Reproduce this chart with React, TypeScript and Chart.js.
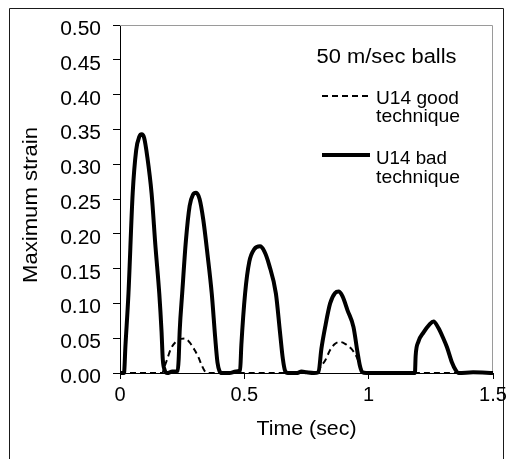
import React, { useEffect, useRef } from 'react';
import { Chart, registerables } from 'chart.js';

Chart.register(...registerables);

// ---- data ----
const badTime = [0, 0.016, 0.022, 0.034, 0.051, 0.065, 0.078, 0.087, 0.097, 0.11, 0.127, 0.143, 0.158, 0.167, 0.172, 0.18, 0.19, 0.21, 0.232, 0.236, 0.24, 0.25, 0.265, 0.28, 0.293, 0.306, 0.32, 0.335, 0.352, 0.369, 0.383, 0.392, 0.4, 0.41, 0.44, 0.465, 0.483, 0.488, 0.503, 0.52, 0.54, 0.563, 0.58, 0.6, 0.627, 0.643, 0.655, 0.664, 0.675, 0.71, 0.73, 0.75, 0.78, 0.798, 0.81, 0.825, 0.845, 0.865, 0.879, 0.895, 0.915, 0.939, 0.955, 0.965, 0.975, 0.99, 1.1, 1.186, 1.189, 1.2, 1.22, 1.245, 1.261, 1.28, 1.3, 1.315, 1.335, 1.35, 1.362, 1.42, 1.5];
const badStrain = [0, 0, 0.04, 0.114, 0.258, 0.32, 0.34, 0.343, 0.338, 0.31, 0.258, 0.18, 0.114, 0.06, 0.02, 0.004, 0, 0.002, 0.003, 0.02, 0.06, 0.114, 0.19, 0.24, 0.256, 0.259, 0.25, 0.22, 0.17, 0.114, 0.05, 0.015, 0.003, 0, 0, 0.002, 0.004, 0.04, 0.114, 0.16, 0.178, 0.182, 0.175, 0.155, 0.114, 0.06, 0.02, 0.003, 0, 0, 0.002, 0.001, 0, 0.001, 0.035, 0.066, 0.1, 0.115, 0.117, 0.11, 0.09, 0.066, 0.03, 0.01, 0.001, 0, 0, 0, 0.025, 0.045, 0.058, 0.07, 0.074, 0.065, 0.05, 0.037, 0.015, 0.004, 0, 0.001, 0];

const goodTime = [0, 0.17, 0.178, 0.188, 0.205, 0.225, 0.245, 0.262, 0.28, 0.3, 0.315, 0.33, 0.342, 0.35, 0.795, 0.805, 0.825, 0.845, 0.865, 0.885, 0.905, 0.93, 0.952, 0.968, 0.978, 1.5];
const goodStrain = [0, 0, 0.008, 0.018, 0.035, 0.045, 0.049, 0.0495, 0.044, 0.033, 0.023, 0.01, 0.002, 0, 0, 0.008, 0.018, 0.033, 0.042, 0.0446, 0.042, 0.035, 0.023, 0.008, 0, 0];

const yTickLabels = ['0.00', '0.05', '0.10', '0.15', '0.20', '0.25', '0.30', '0.35', '0.40', '0.45', '0.50'];
const xTickLabels = ['0', '0.5', '1', '1.5'];
const legendTitle = '50 m/sec balls';
const goodLabel = ['U14 good', 'technique'];
const badLabel = ['U14 bad', 'technique'];
const xAxisTitle = 'Time (sec)';
const yAxisTitle = 'Maximum strain';

const FONT = '"Liberation Sans", Arial, Helvetica, sans-serif';

function drawText(
  ctx: CanvasRenderingContext2D,
  s: string,
  x: number,
  y: number,
  size: number,
  align: CanvasTextAlign,
  opts: { width?: number; sx?: number; rot?: boolean } = {}
) {
  ctx.save();
  ctx.font = `${size}px ${FONT}`;
  const m = ctx.measureText(s).width;
  const sx = opts.width ? opts.width / m : opts.sx ?? 1;
  ctx.translate(x, y);
  if (opts.rot) ctx.rotate(-Math.PI / 2);
  ctx.scale(sx, 1);
  ctx.textAlign = align;
  ctx.textBaseline = 'alphabetic';
  ctx.fillStyle = '#000';
  ctx.fillText(s, 0, 0);
  ctx.restore();
}

const decorPlugin = {
  id: 'decor',
  beforeDatasetsDraw(chart: any) {
    const ctx = chart.ctx as CanvasRenderingContext2D;
    const { left, right, top, bottom } = chart.chartArea;
    ctx.save();
    ctx.strokeStyle = '#9a9a9a';
    ctx.lineWidth = 1;
    ctx.beginPath();
    ctx.moveTo(left, top + 0.5);
    ctx.lineTo(right - 0.5, top + 0.5);
    ctx.lineTo(right - 0.5, bottom);
    ctx.stroke();
    ctx.restore();
  },
  afterDraw(chart: any) {
    const ctx = chart.ctx as CanvasRenderingContext2D;
    const { left, right } = chart.chartArea;
    const ys = chart.scales.y;
    const xs = chart.scales.x;

    // outer frame
    ctx.save();
    ctx.strokeStyle = '#1a1a1a';
    ctx.lineWidth = 1;
    ctx.beginPath();
    ctx.moveTo(9.5, 459);
    ctx.lineTo(9.5, 8.5);
    ctx.lineTo(503.5, 8.5);
    ctx.lineTo(503.5, 459);
    ctx.stroke();
    ctx.restore();

    // y tick labels
    ys.ticks.forEach((t: any) => {
      const py = ys.getPixelForValue(t.value);
      drawText(ctx, String(t.label), 101, py + 10, 20, 'right', { sx: 1.05 });
    });
    // x tick labels
    xs.ticks.forEach((t: any) => {
      const px = xs.getPixelForValue(t.value);
      drawText(ctx, String(t.label), px, 401, 20, 'center', { sx: 1.0 });
    });
    // axis titles
    drawText(ctx, xAxisTitle, (left + right) / 2, 435, 20, 'center', { width: 100 });
    drawText(ctx, yAxisTitle, 37, 205, 20, 'center', { width: 156, rot: true });

    // legend
    drawText(ctx, legendTitle, 316.5, 63, 20, 'left', { width: 140 });
    ctx.save();
    ctx.strokeStyle = '#000';
    ctx.lineWidth = 2;
    ctx.setLineDash([6, 4]);
    ctx.beginPath();
    ctx.moveTo(322, 96);
    ctx.lineTo(369, 96);
    ctx.stroke();
    ctx.setLineDash([]);
    ctx.lineWidth = 4;
    ctx.beginPath();
    ctx.moveTo(322, 155);
    ctx.lineTo(370, 155);
    ctx.stroke();
    ctx.restore();
    drawText(ctx, goodLabel[0], 376, 104, 19, 'left', { width: 83 });
    drawText(ctx, goodLabel[1], 376, 122, 19, 'left', { width: 84 });
    drawText(ctx, badLabel[0], 376, 164, 19, 'left', { width: 71 });
    drawText(ctx, badLabel[1], 376, 183, 19, 'left', { width: 84 });
  },
};

export default function App() {
  const ref = useRef<HTMLCanvasElement | null>(null);

  useEffect(() => {
    const canvas = ref.current;
    if (!canvas) return;
    const goodData = goodTime.map((t, i) => ({ x: t, y: goodStrain[i] }));
    const badData = badTime.map((t, i) => ({ x: t, y: badStrain[i] }));

    const chart = new Chart(canvas, {
      type: 'line',
      data: {
        datasets: [
          {
            label: badLabel.join(' '),
            data: badData,
            borderColor: '#000',
            borderWidth: 4,
            pointRadius: 0,
            cubicInterpolationMode: 'monotone',
            fill: false,
            clip: false as any,
            order: 0,
          },
          {
            label: goodLabel.join(' '),
            data: goodData,
            borderColor: '#000',
            borderWidth: 2,
            borderDash: [6, 4],
            pointRadius: 0,
            cubicInterpolationMode: 'monotone',
            fill: false,
            clip: false as any,
            order: 1,
          },
        ],
      },
      options: {
        animation: false,
        responsive: false,
        devicePixelRatio: 1,
        layout: { padding: { left: 0, top: 25, right: 16, bottom: 0 } },
        plugins: {
          legend: { display: false },
          tooltip: { enabled: false },
          title: { display: false },
        },
        scales: {
          x: {
            type: 'linear',
            min: 0,
            max: 1.5,
            ticks: {
              stepSize: 0.5,
              display: false,
              callback: (_v: any, i: number) => xTickLabels[i],
            },
            grid: {
              drawOnChartArea: false,
              drawTicks: true,
              tickLength: 6,
              color: '#000',
              lineWidth: 1,
            },
            border: { color: '#000', width: 1 },
            afterFit: (s: any) => {
              s.height = 86;
            },
          },
          y: {
            type: 'linear',
            min: 0,
            max: 0.5,
            ticks: {
              stepSize: 0.05,
              display: false,
              callback: (_v: any, i: number) => yTickLabels[i],
            },
            grid: {
              drawOnChartArea: false,
              drawTicks: true,
              tickLength: 7,
              color: '#000',
              lineWidth: 1,
            },
            border: { color: '#000', width: 1 },
            afterFit: (s: any) => {
              s.width = 120;
            },
          },
        },
      },
      plugins: [decorPlugin],
    });
    return () => chart.destroy();
  }, []);

  return (
    <canvas
      ref={ref}
      width={509}
      height={459}
      style={{ position: 'fixed', left: 0, top: 0, width: 509, height: 459, display: 'block', background: '#fff' }}
    />
  );
}
